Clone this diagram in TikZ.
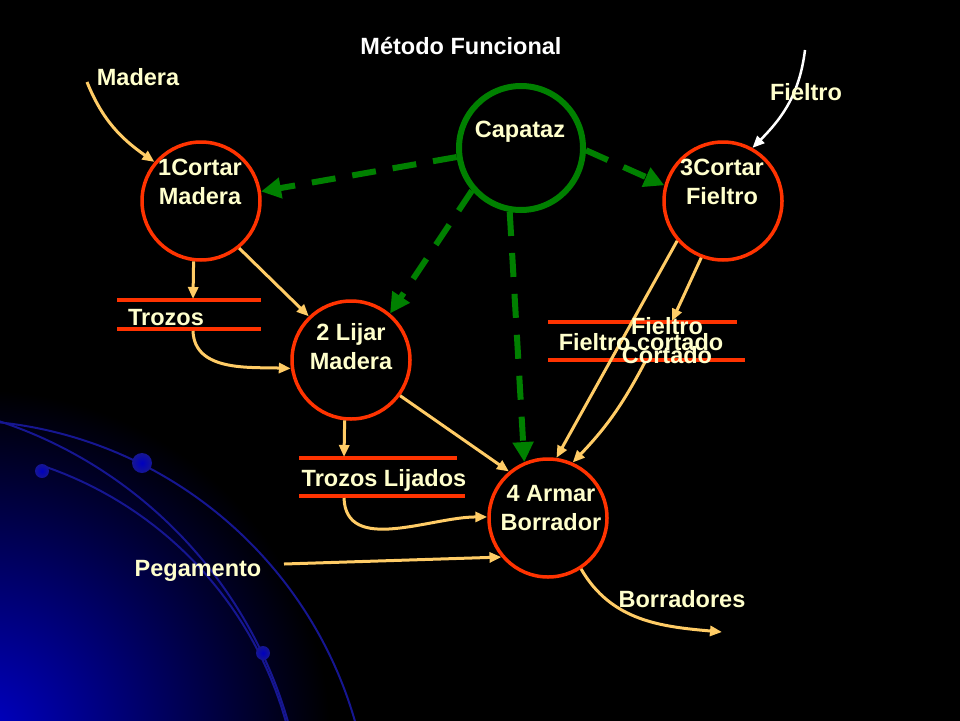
\documentclass[tikz,border=0pt]{standalone}
\usepackage{fontspec}
\setmainfont{Liberation Sans}
\usetikzlibrary{arrows.meta}
\definecolor{crema}{HTML}{FFFFCC}
\definecolor{naranja}{HTML}{FFCC66}
\definecolor{rojo}{HTML}{FF3300}
\definecolor{verde}{HTML}{008000}
\definecolor{fondoazul}{RGB}{0,0,200}
\definecolor{arco}{RGB}{22,22,145}

\begin{document}
\begin{tikzpicture}[x=1pt,y=-1pt,
    font=\fontsize{23.5}{29}\selectfont\bfseries,
    proc/.style={circle,draw=rojo,line width=3.5pt,minimum size=118pt,inner sep=0pt},
    jefe/.style={circle,draw=verde,line width=6pt,minimum size=124pt,inner sep=0pt},
    txt/.style={text=crema,align=center,inner sep=0pt},
    flujo/.style={draw=naranja,line width=3pt,-{Triangle[length=12pt,width=10pt]}},
    control/.style={draw=verde,line width=6pt,dash pattern=on 24pt off 17pt,-{Triangle[length=20pt,width=20pt]}},
    almacen/.style={draw=rojo,line width=4pt}]
    \useasboundingbox (0,0) rectangle (960,720);

    % fondo
    \begin{scope}
      \clip (-4,-4) rectangle (964,724);
      \fill[black] (-4,-4) rectangle (964,724);
      \shade[inner color=fondoazul, outer color=black] (-20,740) circle[radius=350];
      \draw[arco,line width=2pt] (-45,836) circle[radius=416];
      \draw[arco,line width=2pt] (-140,844) circle[radius=445];
      \draw[arco,line width=2pt] plot[domain=-71:-10,samples=40] ({-78+378*cos(\x)},{824+378*sin(\x)});
      \shade[inner color=blue!75!black, outer color=arco] (142,463) circle[radius=10];
      \shade[inner color=blue!75!black, outer color=arco] (42,471) circle[radius=7];
      \shade[inner color=blue!75!black, outer color=arco] (263,653) circle[radius=7];
    \end{scope}

    \node[text=white,inner sep=0pt] (titulo) at (461,46) {Método Funcional};

    % procesos
    \node[jefe] (capataz) at (521,148) {};
    \node[proc] (cortar) at (201,201) {};
    \node[proc] (fieltro) at (723,201) {};
    \node[proc] (lijar) at (351,360) {};
    \node[proc] (armar) at (548,518) {};

    % almacenes
    \draw[almacen] (117,300) -- (261,300) (117,329) -- (261,329);
    \draw[almacen] (299,458) -- (457,458) (299,496) -- (465,496);
    \draw[almacen] (548,322) -- (737,322) (548,360) -- (745,360);

    \coordinate (maderain) at (87,82);
    \coordinate (fieltroen) at (805,50);
    \coordinate (pegin) at (284,564);
    \coordinate (salida) at (722,632);
    \coordinate (trozosa) at (193,299);
    \coordinate (trozosb) at (193,331);
    \coordinate (lijadosa) at (344,457);
    \coordinate (lijadosb) at (344,498);
    \coordinate (cortadoa) at (672,321);
    \coordinate (cortadob) at (645,362);

    % flujos
    \draw[flujo] (maderain) to[out=-68,in=145] (cortar.140);
    \draw[flujo] (cortar.-97) -- (trozosa);
    \draw[flujo] (cortar.-51) -- (lijar.134);
    \draw[flujo] (trozosb) to[out=-88,in=178] (lijar.-172);
    \draw[flujo] (lijar.-96) -- (lijadosa);
    \draw[flujo] (lijar.-36) -- (armar.130);
    \draw[flujo] (lijadosb) to[out=-88,in=180] (armar.179);
    \draw[flujo] (pegin) -- (armar.220);
    \draw[flujo] (armar.-57) to[out=-60,in=175] (salida);
    \draw[flujo] (fieltro.221) -- (armar.82);
    \draw[flujo] (fieltro.-111) -- (cortadoa);
    \draw[flujo] (cortadob) to[bend left=8] (armar.66);
    \draw[draw=white,line width=2.5pt,-{Triangle[length=12pt,width=10pt]}] (fieltroen) to[out=-97,in=45] (fieltro.61);

    % control
    \draw[control] (capataz.188) -- (cortar.9);
    \draw[control] (capataz.-2) -- (fieltro.165);
    \draw[control] (capataz.221) -- (lijar.50);
    \draw[control] (capataz.-100) -- (armar.113);

    % textos
    \node[txt] (capataztxt) at (520,132) {Capataz};
    \node[txt] (cortartxt) at (200,182) {1Cortar\\Madera};
    \node[txt] (fieltrotxt) at (722,182) {3Cortar\\Fieltro};
    \node[txt] (lijartxt) at (351,347) {2 Lijar\\Madera};
    \node[txt] (armartxt) at (551,508) {4 Armar\\Borrador};

    \node[txt] (madera) at (138,77) {Madera};
    \node[txt] (fieltroin) at (806,92) {Fieltro};
    \node[txt] (pegamento) at (198,571) {Pegamento};
    \node[txt] (borradores) at (682,599) {Borradores};
    \node[txt] (trozostxt) at (166,318) {Trozos};
    \node[txt] (lijadostxt) at (384,480) {Trozos Lijados};
    \node[txt] (cortadotxt) at (641,342) {Fieltro cortado};
    \node[txt] (cortadotxtb) at (667,341) {Fieltro\\Cortado};
\end{tikzpicture}
\end{document}
